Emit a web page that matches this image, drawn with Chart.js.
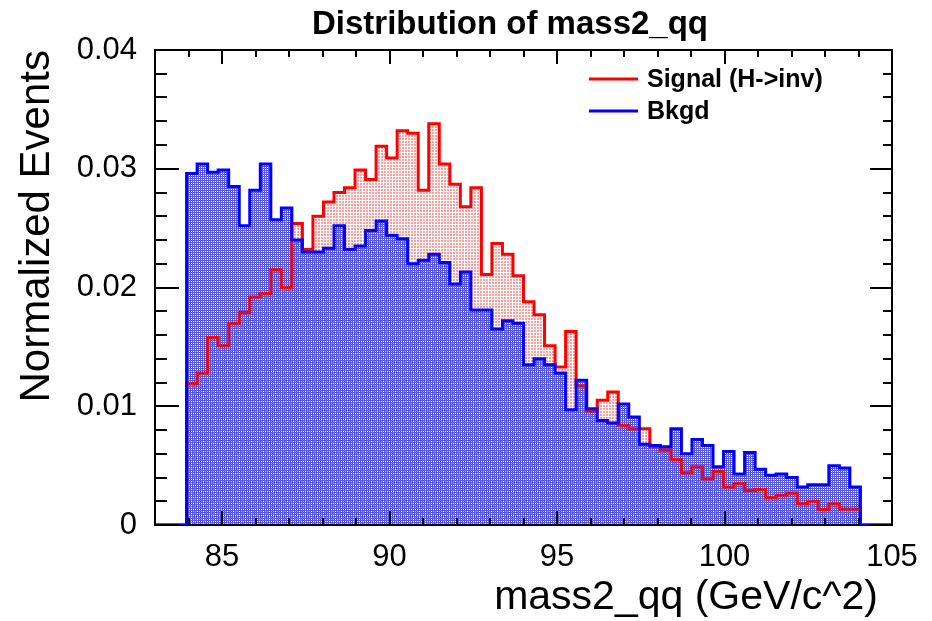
<!DOCTYPE html>
<html>
<head>
<meta charset="utf-8">
<title>Distribution of mass2_qq</title>
<script src="https://cdn.jsdelivr.net/npm/chart.js@4.4.1/dist/chart.umd.min.js"></script>
<style>
  html, body { margin: 0; padding: 0; background: #fff; }
  #wrap { width: 932px; height: 621px; }
</style>
</head>
<body>
<div id="wrap"><canvas id="c" width="932" height="621"></canvas></div>
<script>
// histogram: 70 bins between 83 and 105, first/last 3 bins empty
const X_MIN = 83, X_MAX = 105, N_BINS = 70;

const signal = [
  0, 0, 0,
  0.0119, 0.0128, 0.0158, 0.0151, 0.0170, 0.0179, 0.0192, 0.0195,
  0.0215, 0.0200, 0.0254, 0.0232, 0.0260, 0.0272, 0.0280, 0.0284,
  0.0299, 0.0291, 0.0319, 0.0309, 0.0332, 0.0330, 0.0282, 0.0338,
  0.0304, 0.0287, 0.0268, 0.0284, 0.0211, 0.0237, 0.0228, 0.0210,
  0.0188, 0.0177, 0.0151, 0.0133, 0.0163, 0.0117, 0.0096, 0.0105,
  0.0112, 0.0084, 0.0081, 0.0081, 0.0066, 0.0063, 0.0055, 0.0044,
  0.0049, 0.0039, 0.0045, 0.0032, 0.0035, 0.0029, 0.0030, 0.0023,
  0.0025, 0.0027, 0.0018, 0.0020, 0.0013, 0.0018, 0.00135, 0.00135,
  0, 0, 0
];

const bkgd = [
  0, 0, 0,
  0.0296, 0.0304, 0.0297, 0.0299, 0.0285, 0.0252, 0.0282, 0.0304,
  0.0257, 0.0267, 0.0240, 0.0230, 0.0230, 0.0233, 0.0252, 0.0232,
  0.0235, 0.0248, 0.0256, 0.0244, 0.0241, 0.0220, 0.0223, 0.0228,
  0.0221, 0.0203, 0.0213, 0.0181, 0.0181, 0.0165, 0.0172, 0.0170,
  0.0135, 0.0140, 0.0135, 0.0128, 0.0097, 0.0122, 0.0098, 0.0088,
  0.0086, 0.0102, 0.0091, 0.0068, 0.0067, 0.0066, 0.0081, 0.0060,
  0.0072, 0.0067, 0.0049, 0.0062, 0.0043, 0.0061, 0.0047, 0.0042,
  0.0043, 0.0040, 0.0032, 0.0034, 0.0034, 0.0050, 0.0048, 0.0032,
  0, 0, 0
];

const xTicks = [85, 90, 95, 100, 105];
const yTicks = [0, 0.01, 0.02, 0.03, 0.04];

const TITLE = "Distribution of mass2_qq";
const X_TITLE = "mass2_qq (GeV/c^2)";
const FONT = "'Liberation Sans', Arial, Helvetica, sans-serif";

// bin i drawn from its low edge, plus a closing point at X_MAX
function toSteps(vals) {
  const w = (X_MAX - X_MIN) / N_BINS;
  const pts = vals.map((v, i) => ({ x: X_MIN + i * w, y: v }));
  pts.push({ x: X_MAX, y: vals[vals.length - 1] });
  return pts;
}

// ROOT-like dotted fills
function denseDots(color) {
  const t = document.createElement("canvas");
  t.width = 2; t.height = 2;
  const g = t.getContext("2d");
  g.fillStyle = color;
  g.fillRect(0, 0, 2, 2);
  g.clearRect(1, 1, 1, 1);
  return g.createPattern(t, "repeat");
}
function lightDots(color) {
  const t = document.createElement("canvas");
  t.width = 3; t.height = 3;
  const g = t.getContext("2d");
  g.fillStyle = color;
  g.fillRect(0, 0, 2, 2);
  return g.createPattern(t, "repeat");
}

const rootFrame = {
  id: "rootFrame",
  beforeDatasetsDraw(chart) {
    const { ctx, chartArea: a } = chart;
    ctx.save();
    ctx.strokeStyle = "#000";
    ctx.lineWidth = 2;
    ctx.strokeRect(a.left, a.top, a.right - a.left, a.bottom - a.top);
    ctx.restore();
  },
  afterDatasetsDraw(chart) {
    const { ctx, chartArea: a, scales: { x, y } } = chart;
    ctx.save();
    ctx.strokeStyle = "#000";
    ctx.lineWidth = 2;
    ctx.beginPath();
    for (let v = X_MIN; v <= X_MAX; v += 1) {
      const px = Math.round(x.getPixelForValue(v));
      const len = v % 5 === 0 ? 14 : 7;
      ctx.moveTo(px, a.bottom); ctx.lineTo(px, a.bottom - len);
      ctx.moveTo(px, a.top); ctx.lineTo(px, a.top + len);
    }
    for (let k = 0; k <= 20; k++) {
      const py = Math.round(y.getPixelForValue(k * 0.002));
      const major = k % 5 === 0;
      ctx.moveTo(a.left, py); ctx.lineTo(a.left + (major ? 24 : 12), py);
      ctx.moveTo(a.right, py); ctx.lineTo(a.right - (major ? 22 : 9), py);
    }
    ctx.stroke();

    // legend, in dataset order
    ctx.textAlign = "left";
    ctx.textBaseline = "middle";
    ctx.font = "bold 25px " + FONT;
    chart.data.datasets.forEach((ds, i) => {
      const ly = 79 + i * 32;
      ctx.strokeStyle = ds.borderColor;
      ctx.lineWidth = 3;
      ctx.beginPath();
      ctx.moveTo(589, ly); ctx.lineTo(638, ly);
      ctx.stroke();
      ctx.fillStyle = "#000";
      ctx.fillText(ds.label, 647, ly + 1);
    });

    // title
    ctx.textAlign = "center";
    ctx.font = "bold 33px " + FONT;
    ctx.fillText(TITLE, 510, 25);

    // x axis title, right aligned a bit inside the frame end
    ctx.textAlign = "right";
    ctx.font = "41px " + FONT;
    ctx.fillText(X_TITLE, 878, 598);
    ctx.restore();
  }
};

new Chart(document.getElementById("c"), {
  type: "line",
  data: {
    datasets: [
      {
        label: "Signal (H->inv)",
        data: toSteps(signal),
        order: 2,
        stepped: true,
        borderColor: "#ff0000",
        backgroundColor: lightDots("rgb(255,160,160)"),
        fill: "origin",
        borderWidth: 3,
        borderJoinStyle: "miter",
        pointRadius: 0
      },
      {
        label: "Bkgd",
        data: toSteps(bkgd),
        order: 1,
        stepped: true,
        borderColor: "#0000ff",
        backgroundColor: denseDots("rgb(85,85,235)"),
        fill: "origin",
        borderWidth: 3,
        borderJoinStyle: "miter",
        pointRadius: 0
      }
    ]
  },
  options: {
    responsive: false,
    animation: false,
    layout: { padding: { top: 50, right: 40, left: 0, bottom: 0 } },
    plugins: {
      legend: { display: false },
      tooltip: { enabled: false },
      filler: { drawTime: "beforeDatasetsDraw" }
    },
    scales: {
      x: {
        type: "linear",
        min: X_MIN,
        max: X_MAX,
        afterBuildTicks: s => { s.ticks = xTicks.map(v => ({ value: v })); },
        afterFit: s => { s.height = 96; },
        grid: { display: false, drawTicks: false },
        border: { display: false },
        ticks: { color: "#000", padding: 14, maxRotation: 0, font: { family: FONT, size: 31 } }
      },
      y: {
        min: 0,
        max: 0.04,
        afterBuildTicks: s => { s.ticks = yTicks.map(v => ({ value: v })); },
        afterFit: s => { s.width = 155; },
        grid: { display: false, drawTicks: false },
        border: { display: false },
        ticks: {
          color: "#000",
          padding: 18,
          font: { family: FONT, size: 31 },
          callback: v => (v === 0 ? "0" : v.toFixed(2))
        },
        title: {
          display: true,
          text: "Normalized Events",
          align: "end",
          color: "#000",
          padding: { top: 12, bottom: 0 },
          font: { family: FONT, size: 42 }
        }
      }
    }
  },
  plugins: [rootFrame]
});
</script>
</body>
</html>
